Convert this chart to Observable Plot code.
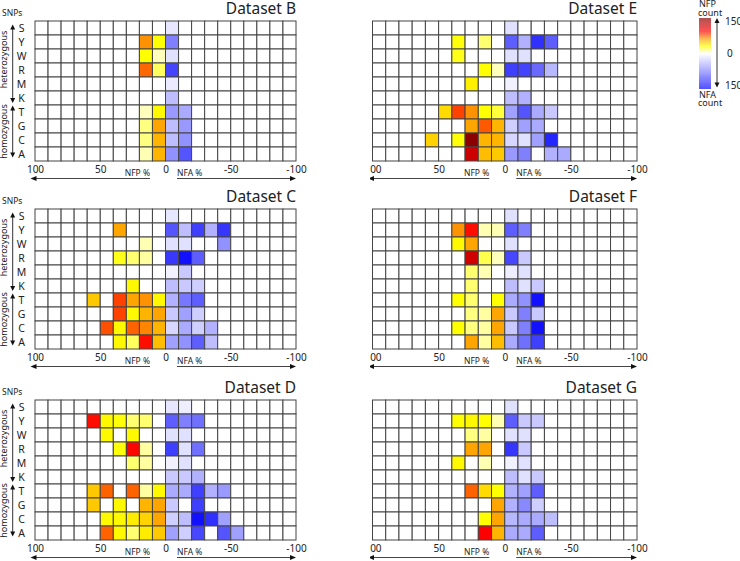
<!DOCTYPE html>
<html><head><meta charset="utf-8">
<script src="https://cdn.jsdelivr.net/npm/d3@7"></script>
<script src="https://cdn.jsdelivr.net/npm/@observablehq/plot@0.6"></script>
<style>
html,body{margin:0;padding:0;background:#fff;overflow:hidden;}
#root{position:relative;width:740px;height:561px;background:#fff;}
#root > svg{position:absolute;overflow:hidden;display:block;}
</style></head><body><div id="root"></div>
<script>
// ---- data ----
const snps = ["S","Y","W","R","M","K","T","G","C","A"];
const xTicks = [100, 50, 0, -50, -100];
// upper edge of every 10% bin of the grid (100 .. -100)
const gridBins = [100,90,80,70,60,50,40,30,20,10,0,-10,-20,-30,-40,-50,-60,-70,-80,-90];
// bins that carry counts (upper edge); >0 : NFP side, <=0 : NFA side
const dataBins = [60,50,40,30,20,10,0,-10,-20,-30,-40,-50];

const datasetB = [
  [0,0,0,0,0,0, 15,0,0,0,0,0],
  [0,0,0,0,64,30, 75,0,0,0,0,0],
  [0,0,0,0,30,8, 18,0,0,0,0,0],
  [0,0,0,0,73,19, 110,0,0,0,0,0],
  [0,0,0,0,0,0, 12,0,0,0,0,0],
  [0,0,0,0,0,0, 38,0,0,0,0,0],
  [0,0,0,0,8,32, 60,50,0,0,0,0],
  [0,0,0,0,15,60, 38,60,0,0,0,0],
  [0,0,0,0,15,55, 38,65,0,0,0,0],
  [0,0,0,0,9,55, 65,100,0,0,0,0]
];
const datasetC = [
  [0,0,0,0,0,0, 14,0,0,0,0,0],
  [0,0,60,0,0,0, 100,38,113,46,118,0],
  [0,0,0,0,9,0, 18,18,0,0,65,0],
  [0,0,27,17,11,0, 117,140,95,0,0,0],
  [0,0,0,0,0,0, 8,32,0,0,0,0],
  [0,0,0,32,0,0, 38,32,28,0,0,0],
  [48,0,81,60,64,32, 46,80,95,0,0,0],
  [0,0,81,32,55,60, 32,56,28,0,0,0],
  [0,78,32,74,67,55, 24,50,28,46,0,0],
  [0,0,32,19,92,52, 56,65,95,38,0,0]
];
const datasetD = [
  [0,0,0,0,0,0, 15,10,0,0,0,0],
  [92,32,29,17,17,0, 95,75,84,0,0,0],
  [0,32,0,32,0,0, 18,18,0,0,0,0],
  [0,0,29,94,11,0, 113,18,84,0,0,0],
  [0,0,0,17,11,0, 8,18,0,0,0,0],
  [0,0,0,0,0,0, 32,32,46,0,0,0],
  [48,74,0,74,11,32, 50,50,113,46,60,0],
  [48,0,32,0,55,60, 32,0,113,0,0,0],
  [0,32,32,36,45,60, 28,38,140,122,56,0],
  [0,74,32,17,36,48, 56,28,108,0,100,56]
];
const datasetE = [
  [0,0,0,0,0,0, 18,0,0,0,0,0],
  [0,0,29,0,17,0, 95,46,122,95,0,0],
  [0,0,27,0,0,0, 18,18,0,0,0,0],
  [0,0,0,0,30,8, 113,110,88,42,0,0],
  [0,0,0,35,0,0, 8,0,0,0,0,0],
  [0,0,0,0,0,0, 38,46,0,0,0,0],
  [0,42,81,64,30,23, 56,100,50,32,0,0],
  [0,0,0,60,76,55, 28,56,50,0,0,0],
  [45,0,29,150,55,55, 24,18,56,128,0,0],
  [0,0,0,119,52,48, 60,75,0,46,50,0]
];
const datasetF = [
  [0,0,0,0,0,0, 18,0,0,0,0,0],
  [0,0,64,92,9,9, 95,75,0,0,0,0],
  [0,0,32,60,0,0, 18,0,0,0,0,0],
  [0,0,0,117,21,8, 108,32,0,0,0,0],
  [0,0,0,17,9,0, 10,18,0,0,0,0],
  [0,0,0,17,0,0, 38,18,32,0,0,0],
  [0,0,30,17,0,30, 50,65,140,0,0,0],
  [0,0,0,15,11,60, 32,75,32,0,0,0],
  [0,0,30,15,11,60, 32,75,140,0,0,0],
  [0,0,0,60,11,52, 50,84,113,0,0,0]
];
const datasetG = [
  [0,0,0,0,0,0, 18,0,0,0,0,0],
  [0,0,30,32,30,9, 95,32,32,0,0,0],
  [0,0,0,15,11,0, 18,18,0,0,0,0],
  [0,0,0,60,60,0, 118,32,0,0,0,0],
  [0,0,32,0,9,0, 8,18,0,0,0,0],
  [0,0,0,0,0,0, 38,18,32,0,0,0],
  [0,0,0,74,42,30, 46,56,95,0,0,0],
  [0,0,0,0,0,60, 46,70,28,0,0,0],
  [0,0,0,0,30,60, 42,50,50,38,0,0],
  [0,0,0,0,95,55, 50,50,95,0,0,0]
];
const panelNames = ["Dataset B","Dataset C","Dataset D","Dataset E","Dataset F","Dataset G"];
const panelData = [datasetB, datasetC, datasetD, datasetE, datasetF, datasetG];
const legendMax = 150;

// ---- rendering ----
const FONT = "'Noto Sans', 'DejaVu Sans', sans-serif";
const colorScale = {
  type: "linear",
  domain: [-150, 0, 30, 60, 95, 150],
  range: ["#0000ff", "#ffffff", "#ffff00", "#ffa500", "#ff0000", "#8b0000"],
  interpolate: "rgb",
  clamp: true
};

function cellsFor(matrix) {
  const out = [];
  snps.forEach((snp, r) => {
    gridBins.forEach(b => {
      const j = dataBins.indexOf(b);
      const n = j >= 0 ? matrix[r][j] : 0;
      out.push({snp, x1: b, x2: b - 10, v: b > 0 ? n : -n});
    });
  });
  return out;
}

function deco(draw) {
  return (index, scales, values, dim) => {
    const g = d3.create("svg:g").attr("font-family", FONT).attr("fill", "#222")
      .attr("text-anchor", "start");
    draw(g, scales, dim);
    return g.node();
  };
}
function tri(g, x, y, dir, w, h) {
  let p;
  if (dir === "up") p = `M${x},${y}L${x - w/2},${y + h}L${x + w/2},${y + h}Z`;
  else if (dir === "down") p = `M${x},${y}L${x - w/2},${y - h}L${x + w/2},${y - h}Z`;
  else if (dir === "left") p = `M${x},${y}L${x + h},${y - w/2}L${x + h},${y + w/2}Z`;
  else p = `M${x},${y}L${x - h},${y - w/2}L${x - h},${y + w/2}Z`;
  g.append("path").attr("d", p).attr("fill", "#111");
}
function vArrow(g, x, y0, y1) {
  g.append("line").attr("x1", x).attr("x2", x).attr("y1", y0 + 4).attr("y2", y1 - 4)
    .attr("stroke", "#333").attr("stroke-width", 1);
  tri(g, x, y0, "up", 5, 5);
  tri(g, x, y1, "down", 5, 5);
}
function twoLines(g, x, y, a, b, size) {
  const t = g.append("text").attr("x", x).attr("y", y).attr("font-size", size);
  t.append("tspan").attr("x", x + 1).text(a);
  t.append("tspan").attr("x", x).attr("dy", "0.95em").text(b);
}

function panel(i) {
  const left = i < 3;
  const mL = left ? 35 : 2.5;
  const gridW = left ? 261 : 264.5;
  const mR = 14, mT = 21, mB = 26;
  const marks = [
    Plot.barX(cellsFor(panelData[i]), {x1: "x1", x2: "x2", y: "snp", fill: "v", stroke: "#444", strokeWidth: 1}),
    Plot.axisX({ticks: xTicks, tickSize: 0, tickPadding: 4, tickFormat: d => String(d), fontSize: 10, label: null}),
    deco((g, s, dim) => {
      const yTop = dim.marginTop, yBot = dim.height - dim.marginBottom;
      const x0 = s.x(0), xL = s.x(100), xR = s.x(-100);
      g.append("text").attr("x", xR).attr("y", yTop - 7).attr("text-anchor", "end")
        .attr("font-size", 15.5).text(panelNames[i]);
      g.append("text").attr("x", x0 - 15.5).attr("y", yBot + 15).attr("text-anchor", "end")
        .attr("font-size", 8.5).text("NFP %");
      g.append("text").attr("x", x0 + 11.5).attr("y", yBot + 15).attr("text-anchor", "start")
        .attr("font-size", 8.5).text("NFA %");
      const ya = yBot + 17.5;
      g.append("line").attr("x1", x0 - 15.5).attr("x2", xL - 0.5).attr("y1", ya).attr("y2", ya)
        .attr("stroke", "#444");
      tri(g, xL - 4.5, ya, "left", 5, 6);
      g.append("line").attr("x1", x0 + 11.5).attr("x2", xR - 4).attr("y1", ya).attr("y2", ya)
        .attr("stroke", "#444");
      tri(g, xR, ya, "right", 5, 6);
      if (left) {
        const bw = s.y.bandwidth();
        g.append("text").attr("x", 2).attr("y", yTop - 5.5).attr("font-size", 8.5).text("SNPs");
        const yS = s.y("S"), yK = s.y("K"), yT = s.y("T"), yA = s.y("A");
        vArrow(g, 12.7, yS + 0.25 * bw, yK + 0.85 * bw);
        vArrow(g, 12.7, yT + 0.03 * bw, yA + 0.75 * bw);
        g.append("text").attr("transform", `translate(7.2,${(yS + yK + bw) / 2 - 3.5}) rotate(-90)`)
          .attr("text-anchor", "middle").attr("font-size", 9).text("heterozygous");
        g.append("text").attr("transform", `translate(7.2,${(yT + yA + bw) / 2 - 1.5}) rotate(-90)`)
          .attr("text-anchor", "middle").attr("font-size", 9).text("homozygous");
      }
    })
  ];
  if (left) marks.push(Plot.axisY({tickSize: 0, tickPadding: 14, textAnchor: "middle", fontSize: 10.5, label: null}));
  const svg = Plot.plot({
    width: mL + gridW + mR, height: mT + 140 + mB,
    marginTop: mT, marginBottom: mB, marginLeft: mL, marginRight: mR,
    x: {domain: [100, -100]},
    y: {domain: snps, padding: 0, ...(left ? {} : {axis: null})},
    color: colorScale,
    style: {fontFamily: FONT, color: "#222", background: "white", overflow: "hidden"},
    marks
  });
  svg.style.left = (left ? 0 : 370) + "px";
  svg.style.top = [0, 188, 379][i % 3] + "px";
  return svg;
}

function legend() {
  const steps = d3.range(-legendMax, legendMax, 1);
  const svg = Plot.plot({
    width: 50, height: 110,
    marginTop: 18, marginBottom: 21, marginLeft: 9, marginRight: 29,
    y: {domain: [-legendMax, legendMax], axis: null},
    color: colorScale,
    style: {fontFamily: FONT, color: "#222", background: "white"},
    marks: [
      Plot.rect(steps, {y1: d => d, y2: d => d + 1, fill: d => d + 0.5}),
      deco((g, s, dim) => {
        const xr = dim.width - dim.marginRight;
        const xa = xr + 6;
        vArrow(g, xa, s.y(legendMax), s.y(-legendMax) - 1.5);
        g.append("text").attr("x", xr + 14).attr("y", s.y(legendMax) + 7).attr("font-size", 10).text(String(legendMax));
        g.append("text").attr("x", xr + 16).attr("y", s.y(0) + 3.5).attr("font-size", 10).text("0");
        g.append("text").attr("x", xr + 14).attr("y", s.y(-legendMax) - 0.5).attr("font-size", 10).text(String(legendMax));
        const xl = dim.marginLeft;
        twoLines(g, xl - 1, 7, "NFP", "count", 9);
        twoLines(g, xl - 1, 97.5, "NFA", "count", 9);
      })
    ]
  });
  svg.style.left = "690px";
  svg.style.top = "0px";
  return svg;
}

const root = document.getElementById("root");
for (let i = 0; i < 6; i++) root.appendChild(panel(i));
root.appendChild(legend());
</script>
</body></html>
